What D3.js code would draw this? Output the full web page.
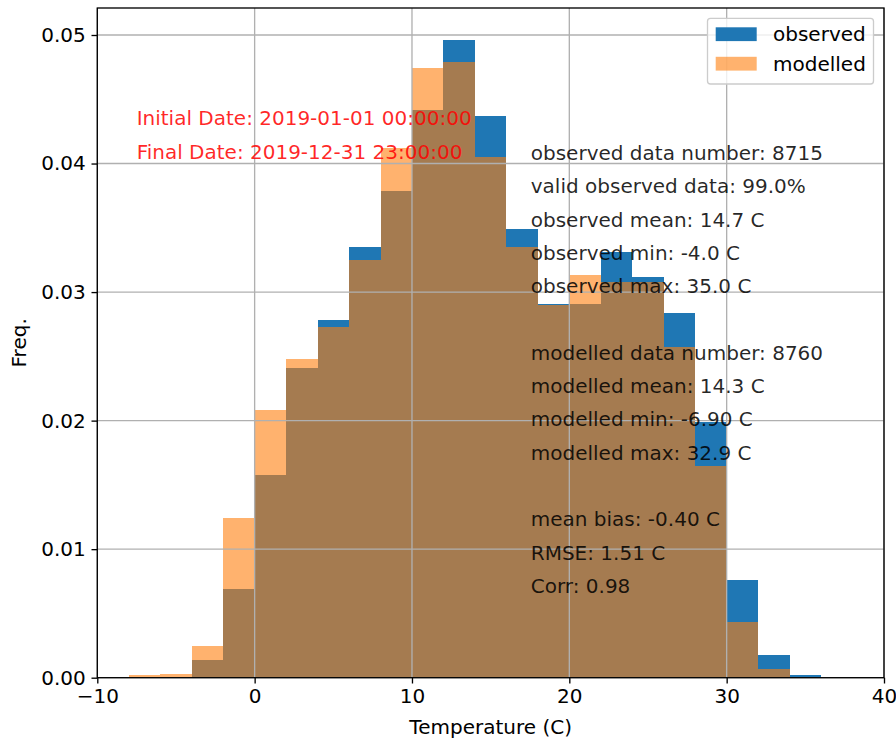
<!DOCTYPE html>
<html>
<head>
<meta charset="utf-8">
<script src="https://cdn.jsdelivr.net/npm/d3@7"></script>
<style>
  body { margin: 0; background: #fff; }
  text { font-family: "DejaVu Sans", sans-serif; }
</style>
</head>
<body>
<script>
// bin edges (2 C wide), left edge of every bin
let binStarts = [-8, -6, -4, -2, 0, 2, 4, 6, 8, 10, 12, 14, 16, 18, 20, 22, 24, 26, 28, 30, 32, 34];
let binWidth = 2;

// normalised frequencies
let observed = [0, 0, 0.0014, 0.0069, 0.0158, 0.0241, 0.0278, 0.0335, 0.0379, 0.0442, 0.0496, 0.0437,
                0.0349, 0.0291, 0.0291, 0.0331, 0.0312, 0.0284, 0.0199, 0.0076, 0.0018, 0.0002];
let modelled = [0.0002, 0.0003, 0.0025, 0.0124, 0.0208, 0.0248, 0.0273, 0.0325, 0.0412, 0.0474, 0.0479, 0.0405,
                0.0335, 0.0290, 0.0313, 0.0308, 0.0308, 0.0257, 0.0165, 0.0043, 0.0007, 0];

let xTicks = [-10, 0, 10, 20, 30, 40];
let yTicks = [0, 0.01, 0.02, 0.03, 0.04, 0.05];

let dateLines = ["Initial Date: 2019-01-01 00:00:00", "Final Date: 2019-12-31 23:00:00"];
let statLines = [
  "observed data number: 8715",
  "valid observed data: 99.0%",
  "observed mean: 14.7 C",
  "observed min: -4.0 C",
  "observed max: 35.0 C",
  "",
  "modelled data number: 8760",
  "modelled mean: 14.3 C",
  "modelled min: -6.90 C",
  "modelled max: 32.9 C",
  "",
  "mean bias: -0.40 C",
  "RMSE: 1.51 C",
  "Corr: 0.98"
];
let seriesNames = ["observed", "modelled"];

let width = 896;
let height = 742;
let margin = {left: 97.3, right: 12, top: 8, bottom: 64.3};
let fontSize = 20;

let svg = d3.select('body').append('svg')
            .attr('width', width)
            .attr('height', height);

let x = d3.scaleLinear().domain([-10, 40]).range([margin.left, width - margin.right]);
let y = d3.scaleLinear().domain([0, 0.0521]).range([height - margin.bottom, margin.top]);

// The bars
svg.append('g').selectAll('rect')
   .data(binStarts.map((b, i) => ({b: b, v: observed[i]})))
   .join('rect')
   .attr('x', d => x(d.b))
   .attr('y', d => y(d.v))
   .attr('width', d => x(d.b + binWidth) - x(d.b))
   .attr('height', d => y(0) - y(d.v))
   .attr('shape-rendering', 'crispEdges')
   .attr('fill', '#1f77b4');

svg.append('g').selectAll('rect')
   .data(binStarts.map((b, i) => ({b: b, v: modelled[i]})))
   .join('rect')
   .attr('x', d => x(d.b))
   .attr('y', d => y(d.v))
   .attr('width', d => x(d.b + binWidth) - x(d.b))
   .attr('height', d => y(0) - y(d.v))
   .attr('shape-rendering', 'crispEdges')
   .attr('fill', '#ff7f0e')
   .attr('fill-opacity', 0.6);

// The grid
svg.append('g').selectAll('line')
   .data(xTicks)
   .join('line')
   .attr('x1', d => x(d)).attr('x2', d => x(d))
   .attr('y1', y.range()[0]).attr('y2', y.range()[1])
   .attr('stroke', '#b0b0b0')
   .attr('stroke-width', 1.33);

svg.append('g').selectAll('line')
   .data(yTicks)
   .join('line')
   .attr('y1', d => y(d)).attr('y2', d => y(d))
   .attr('x1', x.range()[0]).attr('x2', x.range()[1])
   .attr('stroke', '#b0b0b0')
   .attr('stroke-width', 1.33);

// The axes
let xAxis = svg.append('g')
               .attr('transform', `translate(0, ${height - margin.bottom})`)
               .call(d3.axisBottom(x).tickValues(xTicks).tickSize(5.8).tickPadding(5.8).tickSizeOuter(0));
let yAxis = svg.append('g')
               .attr('transform', `translate(${margin.left}, 0)`)
               .call(d3.axisLeft(y).tickValues(yTicks).tickFormat(d3.format('.2f'))
                       .tickSize(5.8).tickPadding(5.8).tickSizeOuter(0));

[xAxis, yAxis].forEach(a => {
  a.select('.domain').remove();
  a.selectAll('line').attr('stroke', '#000').attr('stroke-width', 1.33);
  a.selectAll('text').attr('font-size', fontSize).attr('font-family', '"DejaVu Sans", sans-serif').attr('fill', '#000');
});

// The frame
svg.append('rect')
   .attr('x', x.range()[0])
   .attr('y', y.range()[1])
   .attr('width', x.range()[1] - x.range()[0])
   .attr('height', y.range()[0] - y.range()[1])
   .attr('fill', 'none')
   .attr('stroke', '#000')
   .attr('stroke-width', 1.33);

// Axis labels
svg.append('text')
   .attr('x', (x.range()[0] + x.range()[1]) / 2)
   .attr('y', 727)
   .attr('dy', '0.35em')
   .attr('text-anchor', 'middle')
   .attr('font-size', fontSize)
   .text('Temperature (C)');

svg.append('text')
   .attr('transform', `translate(26, ${(y.range()[0] + y.range()[1]) / 2}) rotate(-90)`)
   .attr('text-anchor', 'middle')
   .attr('font-size', fontSize)
   .text('Freq.');

// The dates
svg.append('g').selectAll('text')
   .data(dateLines)
   .join('text')
   .attr('x', x(-7.5))
   .attr('y', (d, i) => 118 + i * 33.5)
   .attr('dy', '0.35em')
   .attr('font-size', fontSize)
   .attr('fill', '#ff0000')
   .attr('fill-opacity', 0.85)
   .text(d => d);

// The statistics
svg.append('g').selectAll('text')
   .data(statLines)
   .join('text')
   .attr('x', x(17.55))
   .attr('y', (d, i) => 153 + i * 33.3)
   .attr('dy', '0.35em')
   .attr('font-size', fontSize)
   .attr('fill', '#000')
   .attr('fill-opacity', 0.85)
   .text(d => d);

// The legend
let legend = svg.append('g');
legend.append('rect')
      .attr('x', 707.5).attr('y', 18.3)
      .attr('width', 166).attr('height', 65.7)
      .attr('rx', 3)
      .attr('fill', '#fff').attr('fill-opacity', 0.8)
      .attr('stroke', '#cccccc').attr('stroke-width', 1.33);

legend.selectAll('.swatch')
      .data(seriesNames)
      .join('rect')
      .attr('class', 'swatch')
      .attr('x', 715.7)
      .attr('y', (d, i) => 27.3 + i * 29.5)
      .attr('width', 41)
      .attr('height', 13.8)
      .attr('fill', (d, i) => i === 0 ? '#1f77b4' : '#ff7f0e')
      .attr('fill-opacity', (d, i) => i === 0 ? 1 : 0.6);

legend.selectAll('.lbl')
      .data(seriesNames)
      .join('text')
      .attr('class', 'lbl')
      .attr('x', 773)
      .attr('y', (d, i) => 34.2 + i * 29.5)
      .attr('dy', '0.35em')
      .attr('font-size', fontSize)
      .text(d => d);
</script>
</body>
</html>
